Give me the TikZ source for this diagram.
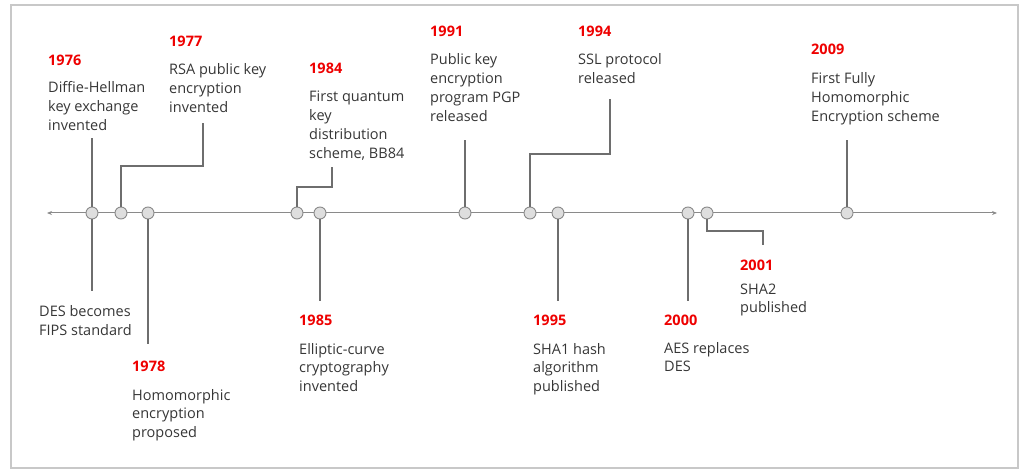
\documentclass[tikz,border=0pt]{standalone}
\usepackage{fontspec}
\setmainfont{Open Sans}
\usetikzlibrary{arrows.meta}
\definecolor{rhred}{HTML}{EE0000}
\definecolor{txt}{HTML}{363636}
\definecolor{ln}{HTML}{6E6E6E}
\definecolor{dotfill}{HTML}{DEDEDE}
\definecolor{dotline}{HTML}{8A8A8A}
\definecolor{frame}{HTML}{C8C8C8}
\begin{document}
\begin{tikzpicture}[x=1pt,y=-1pt,
  yr/.style={anchor=base west, inner sep=0pt, font=\fontsize{14.5}{18.7}\selectfont\bfseries, text=rhred},
  desc/.style={anchor=base west, inner sep=0pt, align=left, font=\fontsize{14.5}{18.7}\selectfont, text=txt},
  dot/.style={circle, draw=dotline, fill=dotfill, line width=0.9pt, minimum size=12pt, inner sep=0pt},
  conn/.style={draw=ln, line width=1.1pt},
  axis/.style={draw=dotline, line width=1pt, {Stealth[length=5pt,width=4pt]}-{Stealth[length=5pt,width=4pt]}}]
\useasboundingbox (0,0) rectangle (1022,470);
\draw[draw=frame, line width=1.6pt] (11,5) rectangle (1018,468);

% axis
\coordinate (aL) at (47,213);
\coordinate (aR) at (997,213);
\draw[axis] (aL) -- (aR);

% free ends and bends
\coordinate (e76u) at (92,138);
\coordinate (e76d) at (92,291);
\coordinate (k77) at (203,166);
\coordinate (e77) at (203,123);
\coordinate (e78) at (148,344);
\coordinate (k84) at (332,187);
\coordinate (e84) at (332,167);
\coordinate (e85) at (320,301);
\coordinate (e91) at (465,140);
\coordinate (k94) at (610,154);
\coordinate (e94) at (610,99);
\coordinate (e95) at (558,301);
\coordinate (e00) at (688,301);
\coordinate (k01) at (763,231);
\coordinate (e01) at (763,245);
\coordinate (e09) at (847,140);

% dots
\node[dot] (c76) at (92,213) {};
\node[dot] (c77) at (121,213) {};
\node[dot] (c78) at (148,213) {};
\node[dot] (c84) at (297,213) {};
\node[dot] (c85) at (320,213) {};
\node[dot] (c91) at (465,213) {};
\node[dot] (c94) at (530,213) {};
\node[dot] (c95) at (558,213) {};
\node[dot] (c00) at (688,213) {};
\node[dot] (c01) at (707,213) {};
\node[dot] (c09) at (847,213) {};

% connectors
\draw[conn] (c76.north) -- (e76u);
\draw[conn] (c76.south) -- (e76d);
\draw[conn] (c77.north) |- (k77) -- (e77);
\draw[conn] (c78.south) -- (e78);
\draw[conn] (c84.north) |- (k84) -- (e84);
\draw[conn] (c85.south) -- (e85);
\draw[conn] (c91.north) -- (e91);
\draw[conn] (c94.north) |- (k94) -- (e94);
\draw[conn] (c95.south) -- (e95);
\draw[conn] (c00.south) -- (e00);
\draw[conn] (c01.south) |- (k01) -- (e01);
\draw[conn] (c09.north) -- (e09);

% labels above (anchor = baseline of last line)
\node[yr] (y76) at (48,66) {1976};
\node[desc] (t76) at (48,130.4) {Diffie-Hellman\\key exchange\\invented};
\node[yr] (y77) at (169,46.5) {1977};
\node[desc] (t77) at (169,112.4) {RSA public key\\encryption\\invented};
\node[yr] (y84) at (309,74) {1984};
\node[desc] (t84) at (309,158.1) {First quantum\\key\\distribution\\scheme, BB84};
\node[yr] (y91) at (430,37) {1991};
\node[desc] (t91) at (430,121.1) {Public key\\encryption\\program PGP\\released};
\node[yr] (y94) at (578,37) {1994};
\node[desc] (t94) at (578,83.7) {SSL protocol\\released};
\node[yr] (y09) at (811,55) {2009};
\node[desc] (t09) at (811,121.4) {First Fully\\Homomorphic\\Encryption scheme};

% labels below
\node[desc] (t77b) at (39,335.2) {DES becomes\\FIPS standard};
\node[yr] (y78) at (132,371) {1978};
\node[desc] (t78) at (132,437.4) {Homomorphic\\encryption\\proposed};
\node[yr] (y85) at (299,325) {1985};
\node[desc] (t85) at (299,391.4) {Elliptic-curve\\cryptography\\invented};
\node[yr] (y95) at (533,325) {1995};
\node[desc] (t95) at (533,391.4) {SHA1 hash\\algorithm\\published};
\node[yr] (y00) at (664,325) {2000};
\node[desc] (t00) at (664,371.7) {AES replaces\\DES};
\node[yr] (y01) at (740,270) {2001};
\node[desc] (t01) at (740,312.7) {SHA2\\published};
\end{tikzpicture}
\end{document}
